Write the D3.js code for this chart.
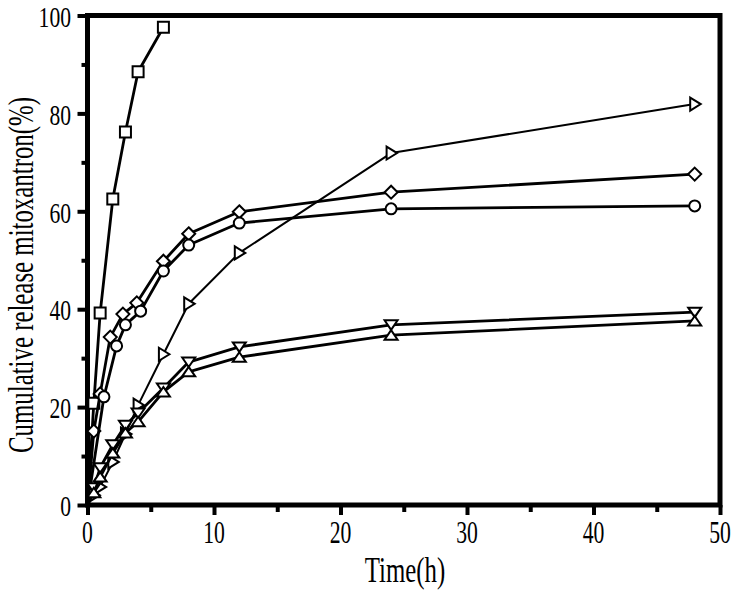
<!DOCTYPE html>
<html>
<head>
<meta charset="UTF-8">
<title>mitoxantron release</title>
<style type="text/css">
	body { margin: 0; background: #fff; }
	.lbl { font-family: "Liberation Serif", "Times New Roman", serif; fill: #000; }
	.axis path { display: none; }
	.axis line { stroke: #000; stroke-width: 4; }
</style>
<script type="text/javascript" src="https://d3js.org/d3.v7.min.js" charset="utf-8"></script>
</head>
<body>
<div id="div_main"></div>

<script type="text/javascript">

	// data
	var square_x = [0, 0.5, 1, 2, 3, 4, 6];
	var square_y = [0, 20.8, 39.2, 62.5, 76.2, 88.5, 97.6];

	var diamond_x = [0, 0.5, 1, 1.8, 2.8, 3.9, 6, 8, 12, 24, 48];
	var diamond_y = [0, 15.1, 22.7, 34.3, 39.0, 41.3, 49.8, 55.4, 59.9, 63.9, 67.6];

	var circle_x = [0, 1.3, 2.3, 3, 4.2, 6, 8, 12, 24, 48];
	var circle_y = [0, 22.1, 32.5, 36.8, 39.6, 47.8, 53.1, 57.6, 60.5, 61.1];

	var right_x = [0, 0.5, 1, 2, 3, 4, 6, 8, 12, 24, 48];
	var right_y = [0, 2.0, 3.7, 8.8, 14.5, 20.4, 30.8, 41.1, 51.5, 71.9, 81.9];

	var down_x = [0, 0.5, 1, 2, 3, 4, 6, 8, 12, 24, 48];
	var down_y = [0, 3.5, 7.6, 12.3, 16.3, 18.8, 23.9, 29.2, 32.3, 36.8, 39.4];

	var up_x = [0, 0.5, 1, 2, 3, 4, 6, 8, 12, 24, 48];
	var up_y = [0, 2.5, 5.7, 10.6, 14.7, 17.0, 23.1, 27.2, 30.2, 34.7, 37.6];

	var x_ticks = [0, 10, 20, 30, 40, 50];
	var x_minor = [5, 15, 25, 35, 45];
	var y_ticks = [0, 20, 40, 60, 80, 100];
	var y_minor = [10, 30, 50, 70, 90];

	var x_title = "Time(h)";
	var y_title = "Cumulative release mitoxantron(%)";

	function zip(xs, ys) {
		return xs.map(function (x, i) { return { x: x, y: ys[i] }; });
	}

	var series = [
		{ name: "square", data: zip(square_x, square_y), lw: 2.8 },
		{ name: "diamond", data: zip(diamond_x, diamond_y), lw: 2.8 },
		{ name: "circle", data: zip(circle_x, circle_y), lw: 2.8 },
		{ name: "right", data: zip(right_x, right_y), lw: 2.0 },
		{ name: "down", data: zip(down_x, down_y), lw: 2.8 },
		{ name: "up", data: zip(up_x, up_y), lw: 2.8 }
	];

	var marker_path = {
		square: "M-5.5,-5.5H5.5V5.5H-5.5Z",
		diamond: "M0,-6.5L6.5,0L0,6.5L-6.5,0Z",
		circle: d3.symbol().type(d3.symbolCircle).size(95)(),
		right: "M-4.5,-6.5L6,0L-4.5,6.5Z",
		down: "M-6.5,-4.5H6.5L0,5Z",
		up: "M-6.5,4.5H6.5L0,-5Z"
	};

	function draw(id_svg_main) {

		var svg_w = 737, svg_h = 591;
		var p_left = 87.5, p_right = 720, p_top = 15.5, p_bottom = 505;

		var scaleX = d3.scaleLinear().domain([0, 50]).range([p_left, p_right]);
		var scaleY = d3.scaleLinear().domain([0, 100]).range([p_bottom, p_top]);

		var svg = d3.select(id_svg_main)
						.append("svg")
							.attr("width", svg_w)
							.attr("height", svg_h);

		// minor ticks
		svg.append("g")
				.attr("class", "axis")
				.attr("transform", "translate(0," + p_bottom + ")")
				.call(d3.axisBottom(scaleX).tickValues(x_minor).tickSize(7).tickFormat(""));
		svg.append("g")
				.attr("class", "axis")
				.attr("transform", "translate(" + p_left + ",0)")
				.call(d3.axisLeft(scaleY).tickValues(y_minor).tickSize(6).tickFormat(""));

		// major ticks
		svg.append("g")
				.attr("class", "axis")
				.attr("transform", "translate(0," + p_bottom + ")")
				.call(d3.axisBottom(scaleX).tickValues(x_ticks).tickSize(10).tickFormat(""));
		svg.append("g")
				.attr("class", "axis")
				.attr("transform", "translate(" + p_left + ",0)")
				.call(d3.axisLeft(scaleY).tickValues(y_ticks).tickSize(10).tickFormat(""));

		// tick labels (tall, narrow serif)
		svg.selectAll("text.xt")
				.data(x_ticks)
				.enter()
				.append("text")
					.attr("class", "lbl xt")
					.attr("text-anchor", "middle")
					.attr("font-size", 31)
					.attr("transform", function (d) { return "translate(" + scaleX(d) + ",543) scale(0.7,1)"; })
					.text(function (d) { return d; });

		svg.selectAll("text.yt")
				.data(y_ticks)
				.enter()
				.append("text")
					.attr("class", "lbl yt")
					.attr("text-anchor", "end")
					.attr("font-size", 30)
					.attr("transform", function (d) { return "translate(71," + (scaleY(d) + 11.2) + ") scale(0.72,1)"; })
					.text(function (d) { return d; });

		svg.append("text")
				.attr("class", "lbl")
				.attr("text-anchor", "middle")
				.attr("font-size", 36)
				.attr("transform", "translate(405,582) scale(0.69,1)")
				.text(x_title);

		svg.append("text")
				.attr("class", "lbl")
				.attr("text-anchor", "middle")
				.attr("font-size", 35)
				.attr("transform", "translate(33,275) rotate(-90) scale(0.71,1)")
				.text(y_title);

		// frame
		svg.append("rect")
				.attr("x", p_left)
				.attr("y", p_top)
				.attr("width", p_right - p_left)
				.attr("height", p_bottom - p_top)
				.attr("fill", "none")
				.attr("stroke", "#000")
				.attr("stroke-width", 5);

		// lines and markers
		var line = d3.line()
						.x(function (d) { return scaleX(d.x); })
						.y(function (d) { return scaleY(d.y); });

		series.forEach(function (s) {
			var g = svg.append("g");
			g.append("path")
					.attr("d", line(s.data))
					.attr("fill", "none")
					.attr("stroke", "#000")
					.attr("stroke-width", s.lw)
					.attr("stroke-linejoin", "round");
			g.selectAll("path.m")
					.data(s.data.filter(function (d) { return d.x > 0; }))
					.enter()
					.append("path")
						.attr("class", "m")
						.attr("d", marker_path[s.name])
						.attr("transform", function (d) { return "translate(" + scaleX(d.x) + "," + scaleY(d.y) + ")"; })
						.attr("fill", "#fff")
						.attr("stroke", "#000")
						.attr("stroke-width", 2);
		});
	}

	draw("#div_main");

</script>
</body>
</html>
